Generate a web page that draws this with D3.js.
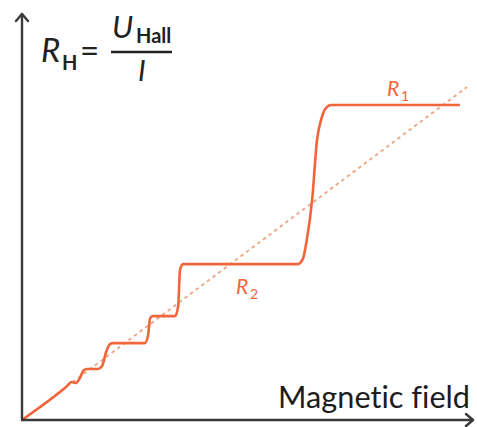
<!DOCTYPE html>
<html>
<head>
<meta charset="utf-8">
<script src="https://cdn.jsdelivr.net/npm/d3@7"></script>
<style>
  body { margin: 0; background: #fff; }
  text { font-family: Lato, "Open Sans", sans-serif; font-variant-ligatures: none; }
</style>
</head>
<body>
<div id="chart"></div>
<script>
// field (B) and Hall resistance (R) readings along the measured curve
const fieldB = [0, 0.99, 1.12, 1.21, 1.30, 1.39, 1.48, 1.71, 1.80, 1.89, 1.98, 2.04, 2.76, 2.83, 2.88, 2.94,
  3.44, 3.51, 3.55, 3.62, 6.20, 6.31, 6.40, 6.52, 6.63, 6.74, 6.83, 6.94, 9.84];
const hallR = [0, 0.99, 1.14, 1.11, 1.26, 1.50, 1.53, 1.53, 1.62, 2.04, 2.28, 2.31, 2.31, 2.52, 3.06, 3.12,
  3.12, 3.42, 4.50, 4.68, 4.68, 4.83, 5.41, 6.61, 8.41, 9.10, 9.37, 9.46, 9.46];
// classical Hall line
const classicB = [0, 10];
const classicR = [0, 10];

const W = 477, H = 427;
const ORANGE = "#f0653a";
const AXIS = "#3a3a3a";

const x = d3.scaleLinear().domain([0, 10]).range([22, 467]);
const y = d3.scaleLinear().domain([0, 10]).range([420, 87]);

const svg = d3.select("#chart").append("svg")
  .attr("width", W)
  .attr("height", H);

const line = d3.line()
  .x(d => x(d[0]))
  .y(d => y(d[1]));

// dashed classical line
svg.append("path")
  .datum(d3.zip(classicB, classicR))
  .attr("fill", "none")
  .attr("stroke", "#eea282")
  .attr("stroke-width", 1.8)
  .attr("stroke-dasharray", "3.5,3.5")
  .attr("d", line);

// quantum Hall curve
svg.append("path")
  .datum(d3.zip(fieldB, hallR))
  .attr("fill", "none")
  .attr("stroke", ORANGE)
  .attr("stroke-width", 2.6)
  .attr("stroke-linejoin", "round")
  .attr("d", line.curve(d3.curveMonotoneX));

// axes with open arrow heads
const ox = x(0), oy = y(0);
const axes = svg.append("g")
  .attr("fill", "none")
  .attr("stroke", AXIS)
  .attr("stroke-width", 2.4)
  .attr("stroke-linecap", "round")
  .attr("stroke-linejoin", "round");

axes.append("path").attr("d", `M${ox},${oy}H473`);
axes.append("path").attr("d", `M466,${oy - 6}L473,${oy}L466,${oy + 6}`);
axes.append("path").attr("d", `M${ox},${oy}V14`);
axes.append("path").attr("d", `M${ox - 6},21L${ox},14L${ox + 6},21`);

// axis label, sized to span the same width as the original
const xl = svg.append("text")
  .attr("x", 470)
  .attr("y", 408)
  .attr("text-anchor", "end")
  .attr("font-size", 30)
  .attr("fill", "#1c1c1c")
  .text("Magnetic field");
const w0 = xl.node().getComputedTextLength();
xl.attr("font-size", 30 * 192 / w0);

// formula R_H = U_Hall / I
const f = svg.append("g").attr("fill", "#222");
f.append("text").attr("x", 41).attr("y", 62).attr("font-size", 33).attr("font-style", "italic").text("R");
f.append("text").attr("x", 62).attr("y", 70).attr("font-size", 20).attr("font-weight", "bold").text("H");
f.append("text").attr("x", 80).attr("y", 62).attr("font-size", 33).text("=");
f.append("line").attr("x1", 111).attr("x2", 172).attr("y1", 52).attr("y2", 52)
  .attr("stroke", "#222").attr("stroke-width", 2.4);
f.append("text").attr("x", 112).attr("y", 38).attr("font-size", 31).attr("font-style", "italic").text("U");
f.append("text").attr("x", 136).attr("y", 43).attr("font-size", 20).attr("font-weight", "bold").text("Hall");
f.append("text").attr("x", 138).attr("y", 81).attr("font-size", 29).attr("font-style", "italic").text("I");

// plateau labels
function rLabel(px, py, sub) {
  const g = svg.append("g").attr("fill", ORANGE);
  g.append("text").attr("x", px).attr("y", py).attr("font-size", 21).attr("font-style", "italic").text("R");
  g.append("text").attr("x", px + 14).attr("y", py + 5).attr("font-size", 14).text(sub);
}
rLabel(387, 96, "1");
rLabel(236, 294, "2");
</script>
</body>
</html>
